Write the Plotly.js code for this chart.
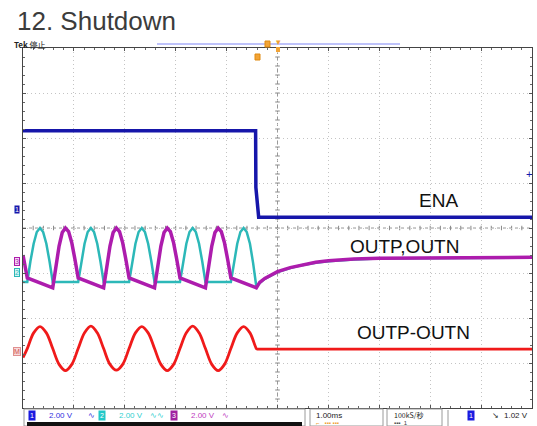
<!DOCTYPE html>
<html>
<head>
<meta charset="utf-8">
<script src="https://cdn.plot.ly/plotly-3.0.1.min.js"></script>
<style>html,body{margin:0;padding:0;background:#fff;}#chart{width:537px;height:426px;}</style>
</head>
<body>
<div id="chart"></div>
<script>
// ---- data (time in ms, level in vertical divisions) ----
const enaTime = [0, 4.57, 4.575, 4.61, 4.63, 10];
const enaLevel = [6.16, 6.16, 4.9, 4.5, 4.24, 4.24];

const diffTime = [0,
  0.084, 0.209, 0.334, 0.459, 0.584, 0.709, 0.834, 0.959,
  1.084, 1.209, 1.334, 1.459, 1.584, 1.709, 1.834, 1.959,
  2.084, 2.209, 2.334, 2.459, 2.584, 2.709, 2.834, 2.959,
  3.084, 3.209, 3.334, 3.459, 3.584, 3.709, 3.834, 3.959,
  4.084, 4.209, 4.334, 4.459, 4.584, 4.6, 4.7, 10];
const diffLevel = [1.12,
  1.32, 1.67, 1.81, 1.67, 1.32, 0.97, 0.83, 0.97,
  1.32, 1.67, 1.82, 1.67, 1.32, 0.97, 0.84, 0.97,
  1.32, 1.67, 1.81, 1.67, 1.32, 0.97, 0.83, 0.97,
  1.32, 1.67, 1.82, 1.67, 1.32, 0.97, 0.83, 0.97,
  1.32, 1.67, 1.81, 1.67, 1.32, 1.31, 1.31, 1.31];

const outpTime = [0,
  0.084, 0.146, 0.209, 0.271, 0.334, 0.396, 0.459, 0.521, 0.584,
  1.084, 1.146, 1.209, 1.271, 1.334, 1.396, 1.459, 1.521, 1.584,
  2.084, 2.146, 2.209, 2.271, 2.334, 2.396, 2.459, 2.521, 2.584,
  3.084, 3.146, 3.209, 3.271, 3.334, 3.396, 3.459, 3.521, 3.584,
  4.084, 4.146, 4.209, 4.271, 4.334, 4.396, 4.459, 4.521, 4.584,
  4.65, 4.75, 5.0, 5.25, 5.5, 5.75, 6.0, 6.5, 7.0, 8.0, 10];
const outpLevel = [2.8,
  2.8, 3.26, 3.65, 3.91, 4.0, 3.91, 3.65, 3.26, 2.8,
  2.8, 3.26, 3.65, 3.91, 4.0, 3.91, 3.65, 3.26, 2.8,
  2.8, 3.26, 3.65, 3.91, 4.0, 3.91, 3.65, 3.26, 2.8,
  2.8, 3.26, 3.65, 3.91, 4.0, 3.91, 3.65, 3.26, 2.8,
  2.8, 3.26, 3.65, 3.91, 4.0, 3.91, 3.65, 3.22, 2.7,
  2.78, 2.87, 3.02, 3.11, 3.18, 3.23, 3.26, 3.30, 3.32, 3.33, 3.34];

const outnTime = [0, 0.03, 0.084,
  0.584, 0.646, 0.709, 0.771, 0.834, 0.896, 0.959, 1.021, 1.084,
  1.584, 1.646, 1.709, 1.771, 1.834, 1.896, 1.959, 2.021, 2.084,
  2.584, 2.646, 2.709, 2.771, 2.834, 2.896, 2.959, 3.021, 3.084,
  3.584, 3.646, 3.709, 3.771, 3.834, 3.896, 3.959, 4.021, 4.084,
  4.584,
  4.65, 4.75, 5.0, 5.25, 5.5, 5.75, 6.0, 6.5, 7.0, 8.0, 10];
const outnLevel = [3.4, 3.2, 2.89,
  2.67, 3.18, 3.6, 3.9, 4.0, 3.92, 3.67, 3.3, 2.89,
  2.67, 3.18, 3.6, 3.9, 4.0, 3.92, 3.67, 3.3, 2.89,
  2.67, 3.18, 3.6, 3.9, 4.0, 3.92, 3.67, 3.3, 2.89,
  2.67, 3.18, 3.6, 3.9, 4.0, 3.92, 3.67, 3.3, 2.89,
  2.67,
  2.79, 2.88, 3.03, 3.12, 3.19, 3.24, 3.27, 3.31, 3.33, 3.34, 3.35];

const traceLabels = ['ENA', 'OUTP,OUTN', 'OUTP-OUTN'];
const chLabels = ['1', '2', '3', 'M'];
const scaleLabels = ['2.00 V', '2.00 V', '2.00 V'];
const timeScale = '1.00ms';
const sampleRate = '100kS/秒';
const trigLevel = '1.02 V';

// ---- geometry helpers (pixel -> paper) ----
const PL = 23, PT = 48, PW = 509, PH = 360;
const fx = p => (p - PL) / PW;
const fy = p => (PT + PH - p) / PH;

const C_BLUE = '#1616aa', C_TEAL = '#2cb8b8', C_PURP = '#ad1cad', C_RED = '#f01a1a';

const traces = [
  {x: enaTime, y: enaLevel, mode: 'lines', line: {color: C_BLUE, width: 3.5}, name: 'ENA'},
  {x: outpTime, y: outpLevel, mode: 'lines', line: {color: C_TEAL, width: 2.5}, name: 'OUTP'},
  {x: outnTime, y: outnLevel, mode: 'lines', line: {color: C_PURP, width: 3.5}, name: 'OUTN'},
  {x: diffTime, y: diffLevel, mode: 'lines', line: {color: C_RED, width: 2.8, shape: 'spline', smoothing: 1}, name: 'OUTP-OUTN'}
];

const shapes = [];
// center crosshair
shapes.push({type: 'line', xref: 'x', yref: 'y', x0: 5, x1: 5, y0: 0, y1: 8, line: {color: '#9a9a9a', width: 1, dash: 'dot'}, layer: 'below'});
shapes.push({type: 'line', xref: 'x', yref: 'y', x0: 0, x1: 10, y0: 4, y1: 4, line: {color: '#9a9a9a', width: 1, dash: 'dot'}, layer: 'below'});
for (let i = 1; i < 50; i++) {
  const v = i * 0.2;
  shapes.push({type: 'line', xref: 'x', yref: 'y', x0: v, x1: v, y0: 3.95, y1: 4.05, line: {color: '#888', width: 1}, layer: 'below'});
}
for (let i = 1; i < 40; i++) {
  const v = i * 0.2;
  shapes.push({type: 'line', xref: 'x', yref: 'y', x0: 4.955, x1: 5.045, y0: v, y1: v, line: {color: '#888', width: 1}, layer: 'below'});
}
function prect(x0, y0, x1, y1, fill, lc, lw) {
  shapes.push({type: 'rect', xref: 'paper', yref: 'paper', x0: fx(x0), x1: fx(x1), y0: fy(y1), y1: fy(y0),
    fillcolor: fill || 'rgba(0,0,0,0)', line: {color: lc || 'rgba(0,0,0,0)', width: lw || 0}});
}
function pline(x0, y0, x1, y1, c, w) {
  shapes.push({type: 'line', xref: 'paper', yref: 'paper', x0: fx(x0), x1: fx(x1), y0: fy(y0), y1: fy(y1), line: {color: c, width: w}});
}
// top status decorations
pline(157, 44, 400, 44, '#a8aef8', 1.5);
prect(265, 41, 270, 47, '#f2a436', '#e08a10', 1);
prect(255, 54, 260, 60, '#f2a436', '#e08a10', 1);
prect(276, 47, 280, 52, '#f2a436', null, 0);
// bottom status bar
prect(24, 409, 305, 426, null, '#9a9a9a', 1);
prect(27, 422, 302, 426, '#111', null, 0);
prect(310, 409, 383, 426, null, '#9a9a9a', 1);
prect(387, 409, 442, 426, null, '#9a9a9a', 1);
pline(448, 410, 448, 426, '#9a9a9a', 1);

const annotations = [];
function ptext(x, y, text, size, color, opts) {
  annotations.push(Object.assign({xref: 'paper', yref: 'paper', x: fx(x), y: fy(y), text: text, showarrow: false,
    xanchor: 'left', yanchor: 'middle', font: {family: 'Liberation Sans, Arial, sans-serif', size: size, color: color}}, opts || {}));
}
// waveform labels
ptext(438, 200, traceLabels[0], 19, '#111', {xanchor: 'center'});
ptext(404, 246, traceLabels[1], 19, '#111', {xanchor: 'center'});
ptext(413, 332, traceLabels[2], 19, '#111', {xanchor: 'center'});
// header
ptext(12, 44, '<b>Tek</b> 停止', 8, '#222', {font: {family: 'Noto Sans CJK JP, Liberation Sans, sans-serif', size: 8, color: '#222'}});
ptext(278, 42, '▾', 9, '#f0a030', {xanchor: 'center'});
ptext(529, 174, '+', 11, C_BLUE, {xanchor: 'center'});
// channel markers
ptext(17, 209, chLabels[0], 7, '#fff', {xanchor: 'center', bgcolor: C_BLUE, borderpad: 0});
ptext(17, 261, chLabels[2], 7, C_PURP, {xanchor: 'center', bordercolor: C_PURP, borderwidth: 1, borderpad: 0, bgcolor: '#f4d8f4'});
ptext(17, 272, chLabels[1], 7, C_TEAL, {xanchor: 'center', bordercolor: C_TEAL, borderwidth: 1, borderpad: 0, bgcolor: '#d8f4f4'});
ptext(17, 351, chLabels[3], 7, '#d05050', {xanchor: 'center', bordercolor: '#e09090', borderwidth: 1, borderpad: 0, bgcolor: '#f8dada'});
// bottom status texts
ptext(32, 415, chLabels[0], 7, '#fff', {xanchor: 'center', bgcolor: '#1a1ae0', borderpad: 1});
ptext(47, 415, scaleLabels[0], 8, '#3030e0');
ptext(86, 415, '∿', 8, '#3030e0');
ptext(102, 415, chLabels[1], 7, '#fff', {xanchor: 'center', bgcolor: '#20c8c8', borderpad: 1});
ptext(117, 415, scaleLabels[1], 8, '#30d0d0');
ptext(148, 415, '∿∿', 8, '#30d0d0');
ptext(174, 415, chLabels[2], 7, '#fff', {xanchor: 'center', bgcolor: '#a020a0', borderpad: 1});
ptext(189, 415, scaleLabels[2], 8, '#c040c0');
ptext(220, 415, '∿', 8, '#c040c0');
ptext(314, 415, timeScale, 8, '#222');
ptext(314, 423, '⌐   ▪▪▪ ▪▪▪', 6, '#f0a030');
ptext(392, 415, sampleRate, 7, '#222', {font: {family: 'Noto Sans CJK JP, sans-serif', size: 7, color: '#222'}});
ptext(392, 423, '▪▪▪  1', 6, '#444');
ptext(471, 415, chLabels[0], 7, '#fff', {xanchor: 'center', bgcolor: '#1a1ae0', borderpad: 1});
ptext(490, 415, '↘', 8, '#222');
ptext(502, 415, trigLevel, 8, '#222');

const axisCommon = {
  showticklabels: false, zeroline: false, showline: true, mirror: 'allticks', linecolor: '#444', linewidth: 1,
  showgrid: true, gridcolor: '#c4c4c4', griddash: '1px,3px', gridwidth: 1,
  ticks: 'inside', ticklen: 3, tickcolor: '#555', fixedrange: true
};
const layout = {
  width: 537, height: 426,
  margin: {l: PL, r: 537 - PL - PW, t: PT, b: 426 - PT - PH},
  paper_bgcolor: '#fff', plot_bgcolor: '#fff',
  showlegend: false,
  title: {text: '12. Shutdown', xref: 'container', yref: 'container', x: 17 / 537, xanchor: 'left', y: 1 - 21 / 426, yanchor: 'middle',
    font: {family: 'Liberation Sans, Arial, sans-serif', size: 26, color: '#3c3c3c'}},
  xaxis: Object.assign({}, axisCommon, {range: [0, 10], dtick: 1, tick0: 0, minor: {ticks: 'inside', dtick: 0.2, ticklen: 2, tickcolor: '#666', showgrid: false}}),
  yaxis: Object.assign({}, axisCommon, {range: [0, 8], dtick: 1, tick0: 0, minor: {ticks: 'inside', dtick: 0.2, ticklen: 2, tickcolor: '#666', showgrid: false}}),
  shapes: shapes,
  annotations: annotations
};
Plotly.newPlot('chart', traces, layout, {displayModeBar: false, staticPlot: true});
</script>
</body>
</html>
